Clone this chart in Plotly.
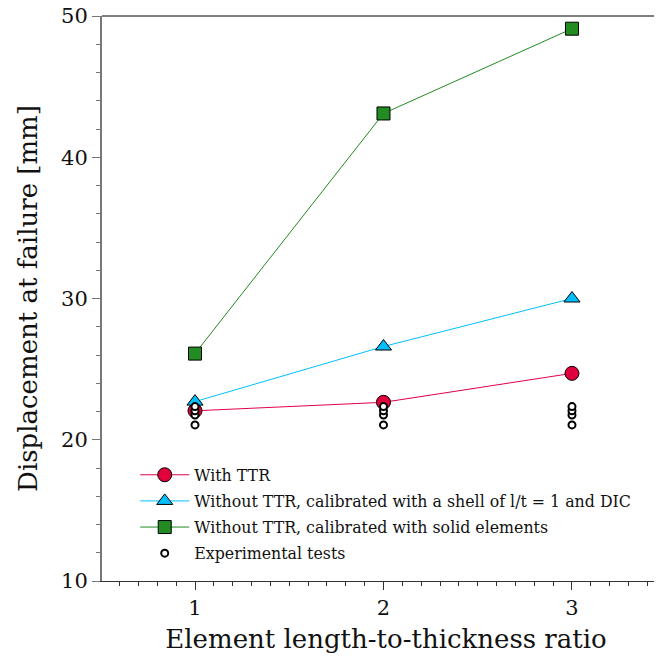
import plotly.graph_objects as go

ratios = [1, 2, 3]
with_ttr = [22.05, 22.65, 24.7]
without_ttr_shell = [22.7, 26.6, 30.0]
without_ttr_solid = [26.1, 43.1, 49.1]

exp_x = [1, 1, 1, 1, 2, 2, 2, 2, 3, 3, 3, 3]
exp_y = [21.05, 21.75, 22.05, 22.35, 21.05, 21.75, 22.05, 22.35, 21.05, 21.75, 22.05, 22.35]

names = [
    "With TTR",
    "Without TTR, calibrated with a shell of l/t = 1 and DIC",
    "Without TTR, calibrated with solid elements",
    "Experimental tests",
]

FONT = "DejaVu Serif"

fig = go.Figure()
fig.add_trace(go.Scatter(x=ratios, y=with_ttr, name=names[0], mode="lines+markers",
                         legendgroup="a",
                         line=dict(color="#E0004A", width=1),
                         marker=dict(symbol="circle", size=14, color="#E0003C",
                                     line=dict(color="black", width=1))))
fig.add_trace(go.Scatter(x=ratios, y=without_ttr_shell, name=names[1], mode="lines+markers",
                         legendgroup="b",
                         line=dict(color="#00BFFF", width=1),
                         marker=dict(symbol="triangle-up", size=14, color="#00BFFF",
                                     line=dict(color="black", width=1))))
fig.add_trace(go.Scatter(x=ratios, y=without_ttr_solid, name=names[2], mode="lines+markers",
                         legendgroup="c",
                         line=dict(color="#228B22", width=1),
                         marker=dict(symbol="square", size=13, color="#228B22",
                                     line=dict(color="black", width=1))))
fig.add_trace(go.Scatter(x=exp_x, y=exp_y, name=names[3], mode="markers",
                         legendgroup="d",
                         marker=dict(symbol="circle", size=7, color="white",
                                     line=dict(color="black", width=2))))

fig.add_shape(type="line", xref="paper", yref="paper", x0=0, x1=1, y0=1, y1=1,
              line=dict(color="black", width=1))

fig.update_layout(
    width=662, height=666,
    margin=dict(l=94, r=0, t=8, b=93, autoexpand=False),
    paper_bgcolor="white", plot_bgcolor="white",
    font=dict(family=FONT, color="#111"),
    showlegend=True,
    legend=dict(x=0.0585, y=0.2177, xanchor="left", yanchor="top",
                bgcolor="rgba(0,0,0,0)", font=dict(size=15.8, family=FONT),
                tracegroupgap=2.6, itemwidth=49),
    xaxis=dict(range=[0.5066, 3.52], tickvals=[1, 2, 3], ticks="outside", ticklen=8,
               tickcolor="#333", showline=True, linecolor="#333", linewidth=1,
               showgrid=False, zeroline=False, tickfont=dict(size=21),
               ticklabeloverflow="allow", automargin=False,
               title=dict(text="Element length-to-thickness ratio", font=dict(size=26), standoff=10),
               minor=dict(dtick=0.1, ticks="outside", ticklen=4, tickcolor="#333", showgrid=False)),
    yaxis=dict(range=[10, 50], tickvals=[10, 20, 30, 40, 50], ticks="outside", ticklen=8,
               tickcolor="#777", showline=True, linecolor="#777", linewidth=2,
               showgrid=False, zeroline=False, tickfont=dict(size=21),
               ticklabeloverflow="allow", automargin=False,
               title=dict(text="Displacement at failure [mm]", font=dict(size=26), standoff=16),
               minor=dict(dtick=2, ticks="outside", ticklen=4, tickcolor="#777", showgrid=False)),
)

fig.write_html("out.html")
